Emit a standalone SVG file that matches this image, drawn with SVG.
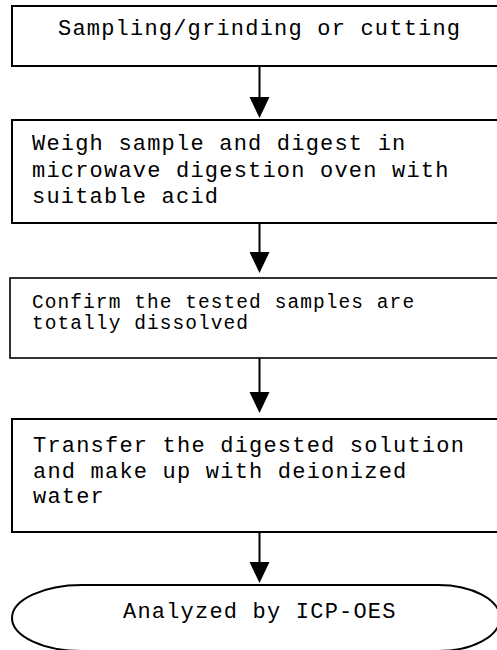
<svg xmlns="http://www.w3.org/2000/svg" width="497" height="650" viewBox="0 0 497 650">
<style>
.box{fill:#fff;stroke:#000;stroke-width:2}
.t{font-family:"Liberation Mono","Courier New",monospace;font-size:22px;letter-spacing:1.2px;fill:#000}
.s{font-size:19.5px;letter-spacing:1.07px}
.c{stroke:#000;stroke-width:2;fill:none}
.h{fill:#000;stroke:none}
</style>
<rect width="497" height="650" fill="#fff"/>
<g id="connectors">
<line class="c" x1="259.5" y1="67" x2="259.5" y2="98"/>
<polygon class="h" points="249.5,97 269.5,97 259.5,118"/>
<line class="c" x1="259.5" y1="223" x2="259.5" y2="253"/>
<polygon class="h" points="249.5,252 269.5,252 259.5,273"/>
<line class="c" x1="259.5" y1="358" x2="259.5" y2="393"/>
<polygon class="h" points="249.5,392 269.5,392 259.5,413"/>
<line class="c" x1="259.5" y1="532" x2="259.5" y2="563"/>
<polygon class="h" points="249.5,562 269.5,562 259.5,583"/>
</g>
<g id="n1">
<rect class="box" x="12" y="6" width="500" height="60"/>
<text class="t" x="58" y="35">Sampling/grinding or cutting</text>
</g>
<g id="n2">
<rect class="box" x="12" y="120" width="500" height="103"/>
<text class="t" x="32" y="150">Weigh sample and digest in</text>
<text class="t" x="32" y="177">microwave digestion oven with</text>
<text class="t" x="32" y="203">suitable acid</text>
</g>
<g id="n3">
<rect class="box" x="10" y="278" width="500" height="80" style="stroke-width:1.6"/>
<text class="t s" x="32" y="308">Confirm the tested samples are</text>
<text class="t s" x="32" y="329">totally dissolved</text>
</g>
<g id="n4">
<rect class="box" x="12" y="419" width="500" height="113"/>
<text class="t" x="33" y="452">Transfer the digested solution</text>
<text class="t" x="33" y="478">and make up with deionized</text>
<text class="t" x="33" y="503">water</text>
</g>
<g id="n5">
<path class="box" d="M82,585 L438,585 A62,33 0 0 1 438,651 L82,651 A70,33 0 0 1 82,585 Z"/>
<text class="t" x="123" y="618">Analyzed by ICP-OES</text>
</g>
</svg>
